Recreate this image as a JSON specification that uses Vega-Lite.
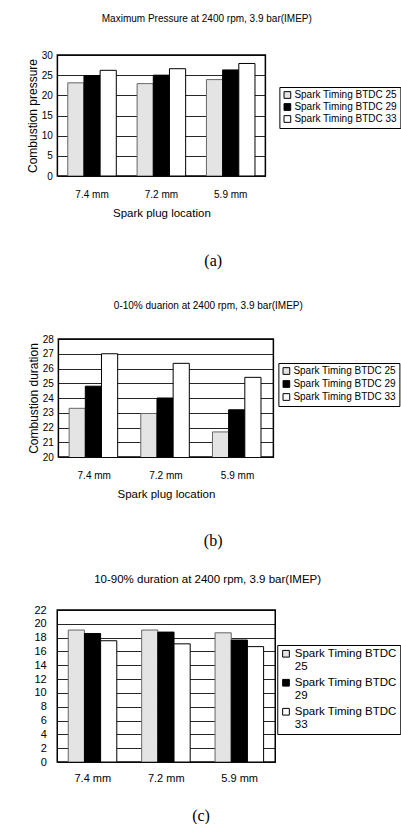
{
  "$schema": "https://vega.github.io/schema/vega-lite/v6.json",
  "background": "white",
  "padding": {"left": 25, "top": 13, "right": 0, "bottom": 0},
  "config": {
    "font": "Liberation Sans",
    "view": {"stroke": "black", "strokeWidth": 1.5},
    "title": {"font": "Liberation Sans", "fontWeight": "normal", "color": "black"},
    "axis": {"labelFont": "Liberation Sans", "labelColor": "black", "titleFont": "Liberation Sans", "titleFontWeight": "normal", "titleColor": "black", "ticks": false, "domain": false, "gridColor": "black", "gridWidth": 1, "gridOpacity": 0.85},
    "axisX": {"grid": false, "labelAngle": 0},
    "legend": {"orient": "none", "title": null, "strokeColor": "black", "fillColor": "white", "padding": 3, "labelFont": "Liberation Sans", "labelColor": "black", "symbolType": "square", "symbolSize": 45, "symbolStrokeColor": "black", "symbolStrokeWidth": 1, "labelOffset": 2}
  },
  "center": true,
  "resolve": {"scale": {"fill": "independent", "stroke": "independent"}, "legend": {"fill": "independent", "stroke": "independent"}},
  "vconcat": [
    {
      "spacing": 30,
      "center": true,
      "resolve": {"scale": {"fill": "independent", "stroke": "independent"}, "legend": {"fill": "independent", "stroke": "independent"}},
      "vconcat": [
        {
          "title": {"text": "(a)", "orient": "bottom", "font": "Liberation Serif", "fontSize": 16, "fontWeight": "normal", "offset": 34, "anchor": "middle", "frame": "bounds"},
          "vconcat": [
            {
              "width": 208,
              "height": 121,
              "title": {"text": "Maximum Pressure at 2400 rpm, 3.9 bar(IMEP)", "fontSize": 10, "offset": 26, "anchor": "middle", "frame": "bounds", "dx": 61},
              "data": {"values": [
                {"location": "7.4 mm", "timing": "Spark Timing BTDC 25", "value": 23.1},
                {"location": "7.4 mm", "timing": "Spark Timing BTDC 29", "value": 24.9},
                {"location": "7.4 mm", "timing": "Spark Timing BTDC 33", "value": 26.2},
                {"location": "7.2 mm", "timing": "Spark Timing BTDC 25", "value": 22.9},
                {"location": "7.2 mm", "timing": "Spark Timing BTDC 29", "value": 25.0},
                {"location": "7.2 mm", "timing": "Spark Timing BTDC 33", "value": 26.6},
                {"location": "5.9 mm", "timing": "Spark Timing BTDC 25", "value": 23.9},
                {"location": "5.9 mm", "timing": "Spark Timing BTDC 29", "value": 26.3},
                {"location": "5.9 mm", "timing": "Spark Timing BTDC 33", "value": 27.9}
              ]},
              "mark": {"type": "bar", "strokeWidth": 1, "clip": true},
              "encoding": {
                "x": {"field": "location", "type": "nominal", "sort": ["7.4 mm", "7.2 mm", "5.9 mm"], "scale": {"paddingInner": 0.3, "paddingOuter": 0.15}, "axis": {"title": "Spark plug location", "labelFontSize": 10, "labelPadding": 13, "titleFontSize": 11.5, "titlePadding": 8}},
                "xOffset": {"field": "timing", "type": "nominal", "sort": ["Spark Timing BTDC 25", "Spark Timing BTDC 29", "Spark Timing BTDC 33"]},
                "y": {"field": "value", "type": "quantitative", "scale": {"domain": [0, 30], "nice": false}, "axis": {"title": "Combustion pressure", "values": [0, 5, 10, 15, 20, 25, 30], "labelFontSize": 10, "labelPadding": 5, "titleFontSize": 12, "titlePadding": 2}},
                "fill": {"field": "timing", "type": "nominal", "sort": ["Spark Timing BTDC 25", "Spark Timing BTDC 29", "Spark Timing BTDC 33"], "scale": {"range": ["#e4e4e4", "#000000", "#ffffff"]}, "legend": {"legendX": 222, "legendY": 32, "labelFontSize": 10, "rowPadding": 0}},
                "stroke": {"field": "timing", "type": "nominal", "sort": ["Spark Timing BTDC 25", "Spark Timing BTDC 29", "Spark Timing BTDC 33"], "scale": {"range": ["#666666", "#000000", "#000000"]}, "legend": null}
              }
            }
          ]
        },
        {
          "title": {"text": "(b)", "orient": "bottom", "font": "Liberation Serif", "fontSize": 16, "fontWeight": "normal", "offset": 33, "anchor": "middle", "frame": "bounds"},
          "vconcat": [
            {
              "width": 215,
              "height": 118,
              "title": {"text": "0-10% duarion at 2400 rpm, 3.9 bar(IMEP)", "fontSize": 10, "offset": 23, "anchor": "middle", "frame": "bounds", "dx": 58},
              "data": {"values": [
                {"location": "7.4 mm", "timing": "Spark Timing BTDC 25", "value": 23.3},
                {"location": "7.4 mm", "timing": "Spark Timing BTDC 29", "value": 24.8},
                {"location": "7.4 mm", "timing": "Spark Timing BTDC 33", "value": 27.0},
                {"location": "7.2 mm", "timing": "Spark Timing BTDC 25", "value": 22.95},
                {"location": "7.2 mm", "timing": "Spark Timing BTDC 29", "value": 24.0},
                {"location": "7.2 mm", "timing": "Spark Timing BTDC 33", "value": 26.35},
                {"location": "5.9 mm", "timing": "Spark Timing BTDC 25", "value": 21.7},
                {"location": "5.9 mm", "timing": "Spark Timing BTDC 29", "value": 23.2},
                {"location": "5.9 mm", "timing": "Spark Timing BTDC 33", "value": 25.4}
              ]},
              "mark": {"type": "bar", "strokeWidth": 1, "clip": true},
              "encoding": {
                "x": {"field": "location", "type": "nominal", "sort": ["7.4 mm", "7.2 mm", "5.9 mm"], "scale": {"paddingInner": 0.3, "paddingOuter": 0.15}, "axis": {"title": "Spark plug location", "labelFontSize": 10, "labelPadding": 13, "titleFontSize": 11.5, "titlePadding": 8}},
                "xOffset": {"field": "timing", "type": "nominal", "sort": ["Spark Timing BTDC 25", "Spark Timing BTDC 29", "Spark Timing BTDC 33"]},
                "y": {"field": "value", "type": "quantitative", "scale": {"domain": [20, 28], "nice": false, "zero": false}, "axis": {"title": "Combustion duration", "values": [20, 21, 22, 23, 24, 25, 26, 27, 28], "labelFontSize": 10, "labelPadding": 5, "titleFontSize": 12, "titlePadding": 2}},
                "fill": {"field": "timing", "type": "nominal", "sort": ["Spark Timing BTDC 25", "Spark Timing BTDC 29", "Spark Timing BTDC 33"], "scale": {"range": ["#e4e4e4", "#000000", "#ffffff"]}, "legend": {"legendX": 220, "legendY": 24, "labelFontSize": 10, "rowPadding": 1}},
                "stroke": {"field": "timing", "type": "nominal", "sort": ["Spark Timing BTDC 25", "Spark Timing BTDC 29", "Spark Timing BTDC 33"], "scale": {"range": ["#666666", "#000000", "#000000"]}, "legend": null}
              }
            }
          ]
        }
      ]
    },
    {
      "title": {"text": "(c)", "orient": "bottom", "font": "Liberation Serif", "fontSize": 16, "fontWeight": "normal", "offset": 24, "anchor": "middle", "frame": "bounds", "dx": -16},
      "vconcat": [
        {
          "width": 218,
          "height": 152,
          "title": {"text": "10-90% duration at 2400 rpm, 3.9 bar(IMEP)", "fontSize": 11.5, "offset": 19, "anchor": "middle", "frame": "bounds", "dx": 53},
          "data": {"values": [
            {"location": "7.4 mm", "timing": "Spark Timing BTDC 25", "value": 19.1},
            {"location": "7.4 mm", "timing": "Spark Timing BTDC 29", "value": 18.6},
            {"location": "7.4 mm", "timing": "Spark Timing BTDC 33", "value": 17.55},
            {"location": "7.2 mm", "timing": "Spark Timing BTDC 25", "value": 19.1},
            {"location": "7.2 mm", "timing": "Spark Timing BTDC 29", "value": 18.8},
            {"location": "7.2 mm", "timing": "Spark Timing BTDC 33", "value": 17.1},
            {"location": "5.9 mm", "timing": "Spark Timing BTDC 25", "value": 18.7},
            {"location": "5.9 mm", "timing": "Spark Timing BTDC 29", "value": 17.65},
            {"location": "5.9 mm", "timing": "Spark Timing BTDC 33", "value": 16.7}
          ]},
          "mark": {"type": "bar", "strokeWidth": 1, "clip": true},
          "encoding": {
            "x": {"field": "location", "type": "nominal", "sort": ["7.4 mm", "7.2 mm", "5.9 mm"], "scale": {"paddingInner": 0.33, "paddingOuter": 0.15}, "axis": {"title": null, "labelFontSize": 11, "labelPadding": 10}},
            "xOffset": {"field": "timing", "type": "nominal", "sort": ["Spark Timing BTDC 25", "Spark Timing BTDC 29", "Spark Timing BTDC 33"]},
            "y": {"field": "value", "type": "quantitative", "scale": {"domain": [0, 22], "nice": false}, "axis": {"title": null, "values": [0, 2, 4, 6, 8, 10, 12, 14, 16, 18, 20, 22], "labelFontSize": 11, "labelPadding": 11}},
            "fill": {"field": "timing", "type": "nominal", "sort": ["Spark Timing BTDC 25", "Spark Timing BTDC 29", "Spark Timing BTDC 33"], "scale": {"range": ["#e4e4e4", "#000000", "#ffffff"]}, "legend": {"legendX": 220, "legendY": 35, "labelFontSize": 11.5, "rowPadding": 3, "labelExpr": "['Spark Timing BTDC', slice(datum.label, 18)]", "labelOffset": 3}},
            "stroke": {"field": "timing", "type": "nominal", "sort": ["Spark Timing BTDC 25", "Spark Timing BTDC 29", "Spark Timing BTDC 33"], "scale": {"range": ["#666666", "#000000", "#000000"]}, "legend": null}
          }
        }
      ]
    }
  ],
  "spacing": 22
}
